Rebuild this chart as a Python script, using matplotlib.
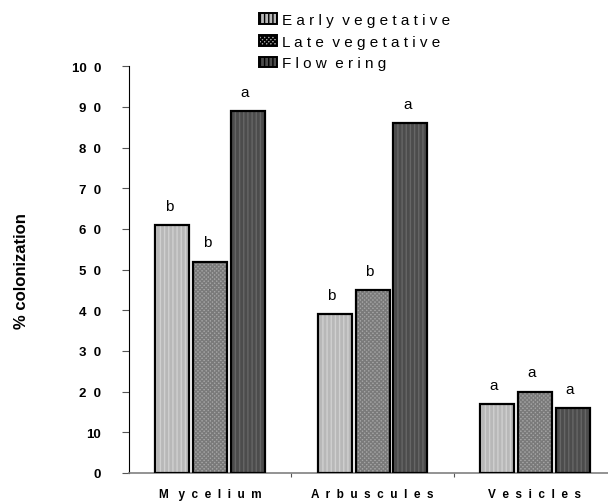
import matplotlib
matplotlib.use("Agg")
import matplotlib.pyplot as plt
from matplotlib.patches import Patch
import numpy as np

plt.rcParams['font.family'] = ['Liberation Sans', 'DejaVu Sans']

categories = ["M   y  c  e  l  i  u  m", "A  r  b  u  s  c  u  l  e  s", "V  e  s  i  c  l  e  s"]
series = ["E a r l y  v e g e t a t i v e", "L a t e  v e g e t a t i v e", "F l o w  e r i n g"]
early = [61, 39, 17]
late = [52, 45, 20]
flowering = [89, 86, 16]
letters = [["b", "b", "a"], ["b", "b", "a"], ["a", "a", "a"]]  # per series
yticks = [0, 10, 20, 30, 40, 50, 60, 70, 80, 90, 100]
ytick_labels = ["0", "10", "2  0", "3  0", "4  0", "5  0", "6  0", "7  0", "8  0", "9  0", "10  0"]

face = ["#b8b8b8", "#a4a4a4", "#4c4c4c"]
hatch_col = ["#d0d0d0", "#7a7a7a", "#666666"]
hatches = ["||||", "xxxxxxxx", "||||"]

fig = plt.figure(figsize=(6.08, 5.02), dpi=100)
ax = fig.add_axes([129 / 608, 28 / 502, 1 - 129 / 608, 406.7 / 502])

x = np.arange(len(categories))
width = 0.21
offsets = [-0.233, 0.0, 0.233]
values = [early, late, flowering]

for i, vals in enumerate(values):
    ax.bar(x + offsets[i], vals, width, color=face[i], hatch=hatches[i],
           edgecolor=hatch_col[i], linewidth=0, zorder=2)
    ax.bar(x + offsets[i], vals, width, fill=False, edgecolor="black",
           linewidth=1.6, zorder=3)
    for j, v in enumerate(vals):
        ax.text(x[j] + offsets[i] - 0.02, v + 3.0, letters[i][j], ha="center",
                va="bottom", fontsize=11)

ax.set_xlim(-0.5, 2.45)
ax.set_ylim(0, 100)
ax.spines["top"].set_visible(False)
ax.spines["right"].set_visible(False)
ax.spines["left"].set_color("black")
ax.spines["bottom"].set_color("#808080")
ax.spines["bottom"].set_linewidth(1.2)

ax.set_yticks(yticks)
ax.set_yticklabels(ytick_labels, fontsize=9.5, fontweight="bold")
ax.tick_params(axis="y", direction="out", length=5, color="#555555", pad=15)

ax.set_xticks([0.5, 1.5])
ax.set_xticklabels([])
ax.tick_params(axis="x", direction="out", length=3, color="#555555")
for j, c in enumerate(categories):
    ax.text(x[j], -3.8, c, ha="center", va="top", fontsize=8.5,
            fontweight="bold", transform=ax.transData)

fig.text(21 / 608, 1 - 271 / 502, "% colonization", rotation=90, ha="center",
         va="center", fontsize=12, fontweight="bold")

handles = [Patch(facecolor=face[i], edgecolor="black", hatch=hatches[i],
                 linewidth=1.4) for i in range(3)]
fig.legend(handles, series, loc="upper left", bbox_to_anchor=(250 / 608, 0.99),
           frameon=False, fontsize=11, handlelength=1.2, handleheight=0.7,
           handletextpad=0.3, labelspacing=0.5, borderaxespad=0.2)

fig.savefig("out.png", dpi=100)
